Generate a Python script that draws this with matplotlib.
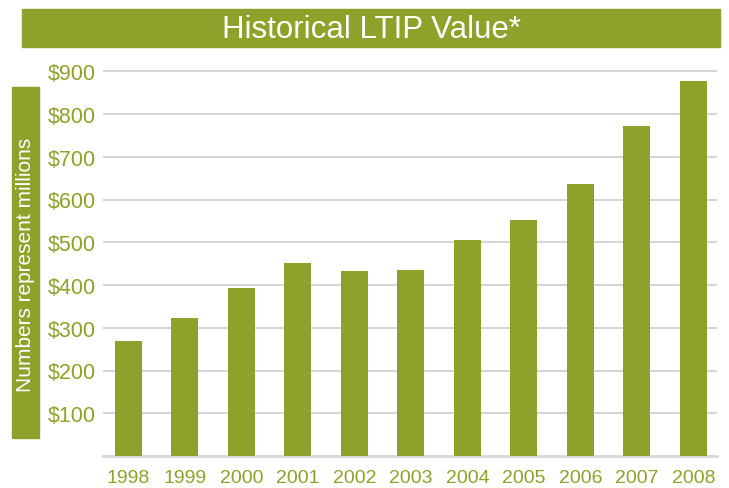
import matplotlib.pyplot as plt
from matplotlib.patches import Rectangle

years = ["1998", "1999", "2000", "2001", "2002", "2003", "2004", "2005", "2006", "2007", "2008"]
ltip_value = [270, 323, 393, 452, 433, 435, 505, 552, 636, 772, 877]
y_ticks = [100, 200, 300, 400, 500, 600, 700, 800, 900]
y_tick_labels = ["$100", "$200", "$300", "$400", "$500", "$600", "$700", "$800", "$900"]

green = "#8ea12b"
grid_gray = "#d6d6d6"

plt.rcParams["font.family"] = ["Liberation Sans", "DejaVu Sans"]

fig = plt.figure(figsize=(7.29, 4.89), dpi=100)
ax = fig.add_axes([103 / 729, 32 / 489, (717 - 103) / 729, 393.3 / 489])

x = range(len(years))
ax.bar(x, ltip_value, width=0.48, color=green, zorder=3)

ax.set_xlim(-0.45, 10.42)
ax.set_ylim(0, 920)
ax.set_yticks(y_ticks)
ax.set_yticklabels(y_tick_labels)
ax.set_xticks(list(x))
ax.set_xticklabels(years)
ax.tick_params(axis="y", length=0, pad=5, labelsize=15.5, labelcolor=green)
ax.tick_params(axis="x", length=0, pad=9.5, labelsize=14, labelcolor=green)
ax.grid(axis="y", color=grid_gray, linewidth=1.5, zorder=0)

for side in ["top", "left", "right"]:
    ax.spines[side].set_visible(False)
ax.spines["bottom"].set_color(grid_gray)
ax.spines["bottom"].set_linewidth(2)

# title banner
fig.patches.append(Rectangle((22 / 729, 1 - 48 / 489), (720 - 22) / 729, 38 / 489,
                             transform=fig.transFigure, color=green, zorder=0))
fig.text((22 + 720) / 2 / 729, 1 - 30 / 489, "Historical LTIP Value*",
         color="white", fontsize=22.5, ha="center", va="center")

# left side label box
fig.patches.append(Rectangle((12 / 729, 1 - 439 / 489), 27 / 729, (439 - 88) / 489,
                             transform=fig.transFigure, color=green, zorder=0))
fig.text(25.5 / 729, 1 - 264.5 / 489, "Numbers represent millions",
         color="white", fontsize=15, rotation=90, ha="center", va="center")

plt.savefig("out.png", dpi=100)
